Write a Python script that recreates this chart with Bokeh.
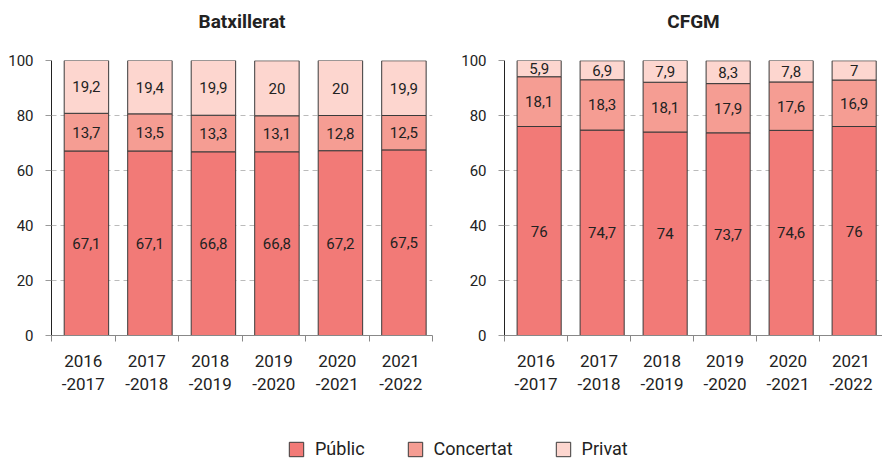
import numpy as np
from bokeh.plotting import figure
from bokeh.layouts import column, row
from bokeh.models import (ColumnDataSource, Range1d, FixedTicker, Legend, LegendItem,
                          LinearAxis)
from bokeh.transform import dodge
from bokeh.core.properties import value
from bokeh.embed import file_html
from bokeh.resources import INLINE

# ---- data ----
years = ["2016\n-2017", "2017\n-2018", "2018\n-2019", "2019\n-2020", "2020\n-2021", "2021\n-2022"]
series = ["Públic", "Concertat", "Privat"]

bat_public = [67.1, 67.1, 66.8, 66.8, 67.2, 67.5]
bat_concertat = [13.7, 13.5, 13.3, 13.1, 12.8, 12.5]
bat_privat = [19.2, 19.4, 19.9, 20.0, 20.0, 19.9]

cfgm_public = [76.0, 74.7, 74.0, 73.7, 74.6, 76.0]
cfgm_concertat = [18.1, 18.3, 18.1, 17.9, 17.6, 16.9]
cfgm_privat = [5.9, 6.9, 7.9, 8.3, 7.8, 7.0]

y_ticks = [0, 20, 40, 60, 80, 100]

COLORS = ["#F27A77", "#F59D93", "#FDD6CF"]
FONT = "Roboto"
TXT = "#222222"

TOP = 60        # frame top (px)
FRAME_H = 275   # frame height (px)


def fmt(v):
    return str(int(v)) if float(v).is_integer() else str(v).replace(".", ",")


def make_chart(title, pub, con, pri, width, height, left, right):
    n = len(years)
    xs = np.arange(n) + 0.5
    src = ColumnDataSource(dict(x=xs, pub=pub, con=con, pri=pri))
    p = figure(width=width, height=height, x_range=Range1d(0, n), y_range=Range1d(0, 100),
               title=None, output_backend="svg", toolbar_location=None,
               min_border_left=left, min_border_right=right,
               min_border_top=TOP, min_border_bottom=height - TOP - FRAME_H)
    p.outline_line_color = None
    p.background_fill_color = None
    p.border_fill_color = None

    # axes
    xa = p.below[0]
    xa.ticker = FixedTicker(ticks=list(xs), minor_ticks=list(range(n + 1)))
    xa.major_label_overrides = {float(x): lab for x, lab in zip(xs, years)}
    xa.major_tick_out = 0
    xa.major_tick_in = 0
    xa.minor_tick_out = 6
    xa.minor_tick_in = 0
    xa.minor_tick_line_color = "#888888"
    xa.axis_line_color = "#888888"
    xa.major_label_text_font = FONT
    xa.major_label_text_font_size = "17px"
    xa.major_label_text_color = TXT
    xa.major_label_text_line_height = 1.15
    xa.major_label_standoff = 9

    ya = p.left[0]
    ya.ticker = FixedTicker(ticks=y_ticks)
    ya.minor_tick_line_color = None
    ya.major_tick_out = 6
    ya.major_tick_in = 0
    ya.major_tick_line_color = "#999999"
    ya.axis_line_color = "#222222"
    ya.major_label_text_font = FONT
    ya.major_label_text_font_size = "15px"
    ya.major_label_text_color = TXT
    ya.major_label_standoff = 12

    p.xgrid.visible = False
    p.ygrid.ticker = FixedTicker(ticks=y_ticks)
    p.ygrid.grid_line_color = "#bbbbbb"
    p.ygrid.grid_line_dash = "5 4"

    # chart title: label of a bare axis above the frame
    top_axis = LinearAxis(ticker=FixedTicker(ticks=[]), axis_line_color=None,
                          major_tick_line_color=None, minor_tick_line_color=None,
                          major_tick_out=0, major_tick_in=0, minor_tick_out=0,
                          major_label_standoff=0,
                          axis_label=title, axis_label_standoff=28,
                          axis_label_text_font=FONT, axis_label_text_font_size="19px",
                          axis_label_text_font_style="bold", axis_label_text_color=TXT)
    p.add_layout(top_axis, "above")

    p.vbar_stack(["pub", "con", "pri"], x=dodge("x", 0.05), width=0.7, source=src,
                 fill_color=COLORS, line_color="#3a3a3a", line_width=1)

    # value labels
    mids = [np.array(pub) / 2,
            np.array(pub) + np.array(con) / 2,
            np.array(pub) + np.array(con) + np.array(pri) / 2]
    for vals, mid in zip([pub, con, pri], mids):
        lsrc = ColumnDataSource(dict(x=xs, y=mid, t=[fmt(v) for v in vals]))
        p.text(x=dodge("x", 0.05), y="y", text="t", source=lsrc,
               text_align="center", text_baseline="middle",
               text_font=value(FONT), text_font_size="15px", text_color=TXT)
    return p


H = 420
p1 = make_chart("Batxillerat", bat_public, bat_concertat, bat_privat, 441, H, 51, 9)
p2 = make_chart("CFGM", cfgm_public, cfgm_concertat, cfgm_privat, 441, H, 63, 0)

# legend strip: glyphs come from (hidden) stacked bars of the same data
p3 = figure(width=882, height=39, x_range=Range1d(0, len(years)), y_range=Range1d(0, 100),
            output_backend="svg", toolbar_location=None, min_border=0)
p3.axis.visible = False
p3.grid.visible = False
p3.outline_line_color = None
lsrc = ColumnDataSource(dict(x=np.arange(len(years)) + 0.5, pub=bat_public,
                             con=bat_concertat, pri=bat_privat))
rs = p3.vbar_stack(["pub", "con", "pri"], x="x", width=0.7, source=lsrc,
                   fill_color=COLORS, line_color="#3a3a3a")
for r in rs:
    r.visible = False
items = [LegendItem(label=name, renderers=[r]) for name, r in zip(series, rs)]
legend = Legend(items=items, orientation="horizontal", location=(287, 0),
                glyph_width=18, glyph_height=18, label_standoff=10, spacing=41,
                label_text_font=FONT, label_text_font_size="18px", label_text_color=TXT,
                border_line_alpha=0, background_fill_alpha=0, padding=0, margin=0,
                inactive_fill_alpha=0)
p3.add_layout(legend, "center")

layout = column(row(p1, p2), p3)
open("out.html", "w").write(file_html(layout, INLINE))
